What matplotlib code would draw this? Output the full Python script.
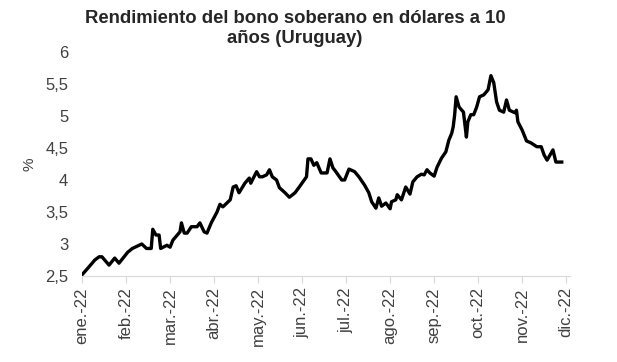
import calendar
import matplotlib
matplotlib.use("Agg")
import matplotlib.pyplot as plt
import pandas as pd

plt.rcParams['font.family'] = ['Liberation Sans', 'DejaVu Sans']

# yield of Uruguay's 10y USD sovereign bond
fechas = [
    "2022-01-01", "2022-01-05", "2022-01-10", "2022-01-13", "2022-01-15", "2022-01-20",
    "2022-01-24", "2022-01-27", "2022-02-02", "2022-02-05", "2022-02-11", "2022-02-14",
    "2022-02-17", "2022-02-18", "2022-02-20", "2022-02-22", "2022-02-23", "2022-02-27",
    "2022-03-01", "2022-03-03", "2022-03-08", "2022-03-09", "2022-03-11", "2022-03-13",
    "2022-03-16", "2022-03-20", "2022-03-22", "2022-03-25", "2022-03-27", "2022-03-30",
    "2022-04-03", "2022-04-05", "2022-04-07", "2022-04-12", "2022-04-14", "2022-04-16",
    "2022-04-18", "2022-04-22", "2022-04-25", "2022-04-26", "2022-04-30", "2022-05-02",
    "2022-05-04", "2022-05-07", "2022-05-09", "2022-05-11", "2022-05-14", "2022-05-16",
    "2022-05-20", "2022-05-23", "2022-05-27", "2022-05-30", "2022-06-04", "2022-06-05",
    "2022-06-07", "2022-06-09", "2022-06-11", "2022-06-14", "2022-06-18", "2022-06-20",
    "2022-06-22", "2022-06-24", "2022-06-28", "2022-06-30", "2022-07-03", "2022-07-07",
    "2022-07-10", "2022-07-14", "2022-07-17", "2022-07-19", "2022-07-22", "2022-07-24",
    "2022-07-26", "2022-07-29", "2022-08-01", "2022-08-02", "2022-08-05", "2022-08-06",
    "2022-08-09", "2022-08-12", "2022-08-15", "2022-08-17", "2022-08-20", "2022-08-23",
    "2022-08-25", "2022-08-27", "2022-08-29", "2022-09-01", "2022-09-03", "2022-09-06",
    "2022-09-09", "2022-09-11", "2022-09-13", "2022-09-14", "2022-09-15", "2022-09-16",
    "2022-09-18", "2022-09-21", "2022-09-23", "2022-09-24", "2022-09-26", "2022-09-28",
    "2022-09-30", "2022-10-02", "2022-10-05", "2022-10-08", "2022-10-10", "2022-10-12",
    "2022-10-14", "2022-10-16", "2022-10-19", "2022-10-21", "2022-10-23", "2022-10-27",
    "2022-10-28", "2022-10-29", "2022-11-01", "2022-11-04", "2022-11-07", "2022-11-11",
    "2022-11-14", "2022-11-16", "2022-11-18", "2022-11-22", "2022-11-24", "2022-11-28",
]
rendimiento = [
    2.52, 2.62, 2.75, 2.80, 2.80, 2.67,
    2.78, 2.70, 2.87, 2.93, 3.00, 2.93,
    2.93, 3.23, 3.14, 3.14, 2.93, 2.98,
    2.95, 3.06, 3.19, 3.33, 3.17, 3.17,
    3.27, 3.27, 3.33, 3.19, 3.17, 3.33,
    3.50, 3.62, 3.58, 3.69, 3.89, 3.91,
    3.80, 3.95, 4.03, 3.95, 4.13, 4.05,
    4.05, 4.08, 4.16, 4.05, 4.00, 3.88,
    3.80, 3.73, 3.80, 3.89, 4.05, 4.33,
    4.33, 4.23, 4.27, 4.11, 4.11, 4.33,
    4.19, 4.13, 4.00, 4.00, 4.17, 4.13,
    4.05, 3.92, 3.80, 3.66, 3.56, 3.72,
    3.59, 3.64, 3.55, 3.66, 3.69, 3.77,
    3.69, 3.89, 3.78, 3.97, 4.05, 4.09,
    4.08, 4.16, 4.11, 4.06, 4.20, 4.34,
    4.44, 4.62, 4.73, 4.83, 5.02, 5.30,
    5.14, 5.06, 4.67, 4.91, 5.02, 5.02,
    5.14, 5.30, 5.33, 5.41, 5.63, 5.52,
    5.22, 5.09, 5.06, 5.25, 5.09, 5.05,
    5.09, 4.91, 4.78, 4.61, 4.58, 4.52,
    4.52, 4.39, 4.31, 4.47, 4.28, 4.28,
]
meses = ["ene.-22", "feb.-22", "mar.-22", "abr.-22", "may.-22", "jun.-22",
         "jul.-22", "ago.-22", "sep.-22", "oct.-22", "nov.-22", "dic.-22"]

fechas = pd.to_datetime(fechas)
# months are spaced equally on the original axis
pos = [(f.month - 1) + (f.day - 1) / calendar.monthrange(f.year, f.month)[1] for f in fechas]

fig = plt.figure(figsize=(6.17, 3.62), dpi=100)
ax = fig.add_axes([0.133, 0.2376, 0.791, 0.6188])
ax.plot(pos, rendimiento, color='black', lw=2.4, solid_joinstyle='round')

ax.set_ylim(2.5, 6)
ax.set_yticks([2.5, 3, 3.5, 4, 4.5, 5, 5.5, 6])
ax.set_yticklabels(['2,5', '3', '3,5', '4', '4,5', '5', '5,5', '6'])
ax.set_xlim(0, 11.09)
ax.set_xticks(range(len(meses)))
ax.set_xticklabels(meses, rotation=90)

for s in ['top', 'right', 'left']:
    ax.spines[s].set_visible(False)
ax.spines['bottom'].set_color('#d9d9d9')
ax.tick_params(axis='y', length=0, pad=10, labelsize=12, labelcolor='#404040')
ax.tick_params(axis='x', length=5, color='#d9d9d9', pad=3, labelsize=12, labelcolor='#404040')

ax.set_ylabel('%', fontsize=11, color='#404040', labelpad=6)
fig.suptitle('Rendimiento del bono soberano en dólares a 10\naños (Uruguay)',
             x=0.478, y=0.972, fontsize=13.3, fontweight='bold', color='#262626', linespacing=1.2)

fig.savefig('out.png', dpi=100)
